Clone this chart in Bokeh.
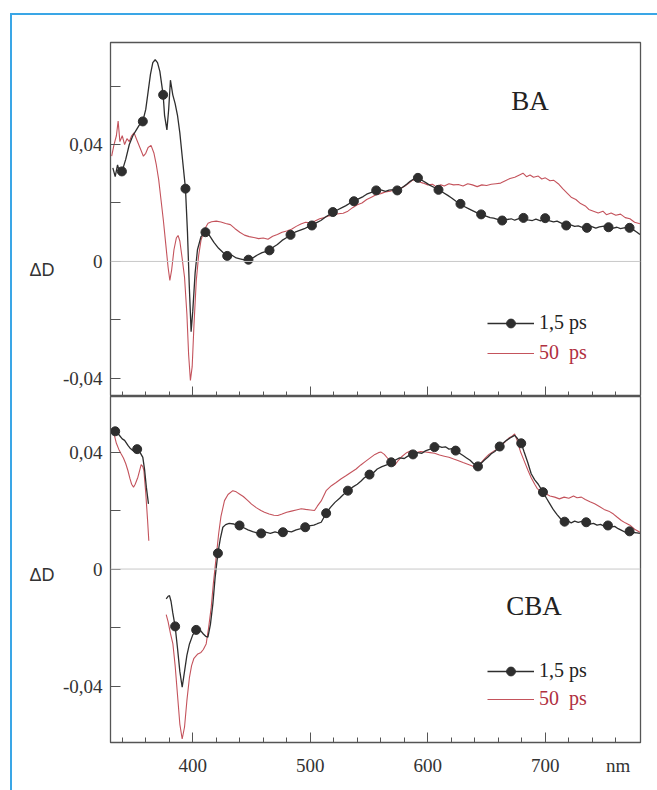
from bokeh.plotting import figure
from bokeh.layouts import column
from bokeh.models import (Range1d, FixedTicker, Span, Label, Legend, LegendItem, LinearAxis)
from bokeh.embed import file_html
from bokeh.resources import INLINE

# ---------------- data ----------------
x_major = [400, 500, 600, 700]
x_minor = [340, 360, 380, 420, 440, 460, 480, 520, 540, 560, 580, 620, 640, 660, 680, 720, 740, 760]
x_unit_pos = 762
x_unit_text = "nm"
y_major = [-0.04, 0, 0.04]
y_minor = [-0.02, 0.02, 0.06]
y_labels = {-0.04: "-0,04", 0: "0", 0.04: "0,04"}
y_name = "ΔD"

# BA, 1.5 ps
ba15_nm = [332, 334, 336, 338, 340, 343, 346, 349, 352, 355, 357.5, 360, 362, 364, 366, 368, 370, 372, 374.8, 376, 378,
           379.5, 381, 383, 385, 387, 389, 391, 393.8, 395.5, 397, 398.6, 400, 402, 404, 407, 410.8, 414, 418, 422, 426,
           429.3, 433, 437, 441, 444, 447.4, 451, 455, 459, 462, 465.3, 469, 472, 476, 480, 483.2, 487, 491, 495, 498,
           501.4, 505, 509, 513, 516, 519.2, 523, 527, 530, 534, 537.1, 541, 545, 548, 552, 556.1, 560, 564, 567, 571,
           574, 578, 582, 585, 588, 591.6, 595, 599, 602, 606, 609.1, 613, 617, 620, 624, 627.8, 631, 635, 638, 642,
           645.4, 649, 653, 656, 660, 663.3, 667, 671, 674, 678, 681.4, 685, 689, 692, 696, 699.9, 703, 707, 710, 714,
           717.8, 721, 725, 728, 732, 735.4, 739, 743, 746, 750, 753.8, 757, 761, 764, 768, 771.7, 775, 778, 780.5]
ba15_dD = [0.032, 0.029, 0.033, 0.030, 0.031, 0.035, 0.040, 0.043, 0.045, 0.047, 0.048, 0.052, 0.058, 0.064, 0.068, 0.069,
           0.068, 0.065, 0.057, 0.050, 0.045, 0.052, 0.062, 0.057, 0.054, 0.050, 0.044, 0.036, 0.0249, 0.010, -0.008,
           -0.024, -0.017, -0.004, 0.004, 0.0085, 0.0100, 0.009, 0.0065, 0.0045, 0.0030, 0.0019, 0.0022, 0.0012, 0.0008,
           0.0005, 0.0006, 0.0012, 0.0022, 0.0030, 0.0034, 0.0038, 0.0050, 0.0058, 0.0072, 0.0082, 0.0091, 0.0100,
           0.0106, 0.0112, 0.0118, 0.0123, 0.0132, 0.0140, 0.0152, 0.0160, 0.0169, 0.0176, 0.0184, 0.0190, 0.0200,
           0.0206, 0.0214, 0.0222, 0.0230, 0.0236, 0.0243, 0.0245, 0.0240, 0.0244, 0.0246, 0.0243, 0.0252, 0.0264,
           0.0274, 0.0282, 0.0286, 0.0278, 0.0268, 0.0260, 0.0252, 0.0245, 0.0236, 0.0226, 0.0218, 0.0206, 0.0197,
           0.0188, 0.0180, 0.0174, 0.0166, 0.0161, 0.0156, 0.0150, 0.0148, 0.0143, 0.0140, 0.0143, 0.0146, 0.0141,
           0.0147, 0.0149, 0.0142, 0.0140, 0.0145, 0.0139, 0.0148, 0.0140, 0.0135, 0.0138, 0.0130, 0.0123, 0.0126,
           0.0120, 0.0122, 0.0116, 0.0115, 0.0120, 0.0114, 0.0118, 0.0121, 0.0117, 0.0113, 0.0117, 0.0112, 0.0116,
           0.0115, 0.0108, 0.0100, 0.0092]
ba15_mk_nm = [339.7, 357.5, 374.8, 393.8, 410.8, 429.3, 447.4, 465.3, 483.2, 501.4, 519.2, 537.1, 556.1, 574.0, 591.6,
              609.1, 627.8, 645.4, 663.3, 681.4, 699.9, 717.8, 735.4, 753.8, 771.7]
ba15_mk_dD = [0.0308, 0.0479, 0.057, 0.0249, 0.0100, 0.0019, 0.0006, 0.0038, 0.0091, 0.0123, 0.0169, 0.0206, 0.0243,
              0.0243, 0.0286, 0.0245, 0.0197, 0.0161, 0.0140, 0.0149, 0.0148, 0.0123, 0.0115, 0.0117, 0.0115]

# BA, 50 ps
ba50_nm = [331, 333, 335, 336.5, 338, 340, 342, 344, 346, 348, 350, 352, 355, 358, 360, 362, 364.5, 367, 369, 371, 373,
           375, 377, 379, 380.5, 382, 384, 386, 387.5, 389, 391, 393, 395, 396.5, 398, 399.5, 401, 403, 405, 407, 410,
           413, 416, 420, 424, 428, 432, 436, 440, 444, 448, 452, 456, 460, 464, 468, 472, 476, 480, 484, 488, 492,
           496, 500, 504, 508, 512, 516, 520, 524, 528, 532, 536, 540, 544, 548, 552, 556, 560, 564, 568, 572, 576,
           580, 584, 587, 590, 593, 596, 600, 604, 607, 611, 614, 618, 622, 626, 630, 634, 638, 642, 646, 650, 654,
           658, 662, 666, 670, 674, 678, 681, 684, 687, 690, 694, 697, 700, 704, 707, 711, 715, 719, 722, 726, 730,
           734, 737, 741, 745, 749, 752, 756, 760, 764, 768, 772, 776, 780.5]
ba50_dD = [0.036, 0.040, 0.043, 0.048, 0.041, 0.043, 0.040, 0.042, 0.041, 0.043, 0.044, 0.042, 0.039, 0.036, 0.037,
           0.039, 0.0397, 0.037, 0.033, 0.028, 0.021, 0.014, 0.006, -0.002, -0.0065, -0.003, 0.004, 0.008, 0.0089,
           0.007, 0.001, -0.0054, -0.018, -0.032, -0.0407, -0.036, -0.022, -0.0065, 0.002, 0.0072, 0.011, 0.0131,
           0.0136, 0.0138, 0.0135, 0.0130, 0.0126, 0.0112, 0.0100, 0.0090, 0.0085, 0.0082, 0.0078, 0.0080, 0.0076,
           0.0086, 0.0092, 0.0100, 0.0104, 0.0110, 0.0120, 0.0128, 0.0134, 0.0132, 0.0138, 0.0146, 0.0150, 0.0156,
           0.0160, 0.0163, 0.0165, 0.0172, 0.0184, 0.0194, 0.0200, 0.0212, 0.0220, 0.0228, 0.0232, 0.0238, 0.0240,
           0.0245, 0.0249, 0.0256, 0.0268, 0.0278, 0.0280, 0.0272, 0.0268, 0.0262, 0.0264, 0.0256, 0.0262, 0.0258,
           0.0266, 0.0262, 0.0263, 0.0258, 0.0266, 0.0262, 0.0256, 0.0262, 0.0260, 0.0264, 0.0266, 0.0268, 0.0276,
           0.0284, 0.0288, 0.0296, 0.0302, 0.0290, 0.0296, 0.0288, 0.0292, 0.0282, 0.0286, 0.0276, 0.0278, 0.0266,
           0.0248, 0.0232, 0.0220, 0.0212, 0.0198, 0.0190, 0.0178, 0.0172, 0.0166, 0.0172, 0.0160, 0.0166, 0.0158,
           0.0162, 0.0150, 0.0146, 0.0134, 0.0129]

# CBA, 1.5 ps (two measured segments)
cba15_nm_a = [331, 334, 337, 340, 342, 345, 347, 349, 351, 352.7, 355, 357.5, 359, 360.5, 362.3]
cba15_dD_a = [0.048, 0.0471, 0.046, 0.0445, 0.0440, 0.0422, 0.0412, 0.0405, 0.0408, 0.0410, 0.0400, 0.0382, 0.034,
              0.028, 0.0223]
cba15_nm_b = [377.4, 379, 380.2, 381.5, 383, 385, 387, 389, 391, 393, 395, 397.2, 400, 402.9, 405, 407, 409, 411, 412.9,
              415, 417.1, 419, 421.4, 423.5, 425.6, 428, 431, 435, 439.8, 443, 447, 451, 455, 458.2, 462, 466, 470, 473,
              476.7, 480, 484, 488, 492, 495.7, 499, 503, 506, 509.3, 513.5, 517, 521, 525, 528, 532, 536, 540, 543,
              546, 550.4, 554, 557, 561, 565, 568.9, 572, 576, 580, 583, 587.4, 591, 595, 598, 602, 605.7, 609, 612,
              615, 618, 621, 623.7, 627, 630, 633, 636, 639, 642.7, 645, 648, 651, 654, 657, 661.2, 664, 667, 670,
              673.9, 676, 679.5, 682, 685, 688, 691, 694, 698, 701, 704, 707, 710, 713, 716.4, 719, 722, 725, 728,
              731, 734.8, 738, 741, 744, 747, 750, 753.3, 756, 759, 762, 765, 768, 771.7, 775, 778, 780.5]
cba15_dD_b = [-0.0102, -0.0093, -0.0091, -0.0110, -0.0150, -0.0196, -0.0270, -0.0350, -0.0404, -0.0350, -0.0295,
              -0.0256, -0.0225, -0.0208, -0.0205, -0.0212, -0.0222, -0.0230, -0.0233, -0.0190, -0.0119, -0.0030,
              0.0054, 0.0105, 0.0143, 0.0152, 0.0156, 0.0154, 0.0149, 0.0142, 0.0134, 0.0128, 0.0123, 0.0122, 0.0126,
              0.0122, 0.0127, 0.0124, 0.0126, 0.0130, 0.0127, 0.0134, 0.0138, 0.0143, 0.0148, 0.0150, 0.0155, 0.0160,
              0.0191, 0.0210, 0.0228, 0.0242, 0.0254, 0.0268, 0.0280, 0.0290, 0.0300, 0.0312, 0.0323, 0.0330, 0.0342,
              0.0350, 0.0356, 0.0365, 0.0372, 0.0380, 0.0378, 0.0386, 0.0392, 0.0398, 0.0396, 0.0404, 0.0410, 0.0417,
              0.0420, 0.0416, 0.0418, 0.0410, 0.0412, 0.0405, 0.0396, 0.0388, 0.0380, 0.0372, 0.0360, 0.0351, 0.0360,
              0.0372, 0.0382, 0.0394, 0.0402, 0.0419, 0.0430, 0.0440, 0.0448, 0.0457, 0.0448, 0.0430, 0.0400, 0.0365,
              0.0326, 0.0305, 0.0290, 0.0263, 0.0242, 0.0222, 0.0202, 0.0186, 0.0172, 0.0162, 0.0165, 0.0158, 0.0164,
              0.0160, 0.0163, 0.0160, 0.0154, 0.0156, 0.0150, 0.0153, 0.0147, 0.0149, 0.0144, 0.0146, 0.0138, 0.0132,
              0.0126, 0.0129, 0.0125, 0.0124, 0.0122]
cba15_mk_nm = [334, 352.7, 385, 402.9, 421.4, 439.8, 458.2, 476.7, 495.7, 513.5, 532, 550.4, 568.9, 587.4, 605.7,
               623.7, 642.7, 661.2, 679.5, 698, 716.4, 734.8, 753.3, 771.7]
cba15_mk_dD = [0.0471, 0.0410, -0.0196, -0.0208, 0.0054, 0.0149, 0.0122, 0.0126, 0.0143, 0.0191, 0.0268, 0.0323,
               0.0365, 0.0392, 0.0417, 0.0405, 0.0351, 0.0419, 0.0430, 0.0263, 0.0162, 0.0160, 0.0149, 0.0129]

# CBA, 50 ps (two measured segments)
cba50_nm_a = [331, 333, 335, 337, 339, 341, 343, 344.8, 346.5, 348, 349.6, 351, 353.3, 355, 356.1, 357.5, 358.4, 360,
              361.5, 362.6]
cba50_dD_a = [0.047, 0.0462, 0.043, 0.041, 0.0394, 0.038, 0.036, 0.0337, 0.031, 0.0290, 0.0280, 0.029, 0.0314, 0.034,
              0.0357, 0.0350, 0.0337, 0.026, 0.017, 0.0097]
cba50_nm_b = [377.4, 379, 381, 383.1, 385, 387, 389, 391, 393, 395, 397.2, 399, 401, 404.3, 407, 409, 411.4, 413.5,
              415.7, 417.5, 419.9, 422, 424, 427, 430, 434.1, 437, 440, 443, 446.9, 450, 454, 458, 461, 465, 469,
              472.4, 476, 480, 484, 488, 492.3, 496, 500, 503.6, 506, 509.3, 513.5, 518, 522, 526, 530, 534.8, 539,
              543, 547, 551, 555, 558, 560.3, 563, 566, 569, 571.7, 575, 578, 582, 585.9, 590, 594, 598, 602, 605.7,
              610, 614, 618, 622, 625.6, 630, 634, 638, 641.2, 645, 649, 652, 656.8, 660, 663, 666, 669, 672, 673.9,
              676, 679, 682, 685.3, 688, 691, 693, 696.6, 700, 704, 708, 712, 716, 720, 724, 727, 730.7, 734, 738,
              742, 746, 750, 754, 758, 761, 764.7, 768, 772, 776, 780.5]
cba50_dD_b = [-0.0156, -0.0180, -0.0220, -0.0256, -0.0330, -0.0430, -0.0530, -0.0581, -0.0540, -0.0450, -0.0370,
              -0.0330, -0.0305, -0.0290, -0.0285, -0.0275, -0.0256, -0.0200, -0.0131, -0.0050, 0.0040, 0.0120,
              0.0180, 0.0234, 0.0255, 0.0268, 0.0264, 0.0256, 0.0248, 0.0234, 0.0222, 0.0210, 0.0200, 0.0194, 0.0188,
              0.0184, 0.0183, 0.0188, 0.0194, 0.0198, 0.0202, 0.0206, 0.0204, 0.0202, 0.0200, 0.0215, 0.0233, 0.0268,
              0.0285, 0.0296, 0.0308, 0.0318, 0.0331, 0.0342, 0.0356, 0.0368, 0.0380, 0.0392, 0.0398, 0.0400, 0.0392,
              0.0378, 0.0362, 0.0354, 0.0372, 0.0385, 0.0398, 0.0405, 0.0398, 0.0402, 0.0400, 0.0398, 0.0396, 0.0390,
              0.0386, 0.0382, 0.0376, 0.0371, 0.0364, 0.0358, 0.0352, 0.0348, 0.0362, 0.0380, 0.0392, 0.0405, 0.0412,
              0.0424, 0.0436, 0.0448, 0.0455, 0.0462, 0.0440, 0.0400, 0.0370, 0.0337, 0.0312, 0.0290, 0.0276, 0.0263,
              0.0258, 0.0250, 0.0246, 0.0240, 0.0246, 0.0242, 0.0250, 0.0244, 0.0246, 0.0238, 0.0230, 0.0223, 0.0214,
              0.0204, 0.0198, 0.0188, 0.0178, 0.0166, 0.0158, 0.0150, 0.0136, 0.0126]

series_labels = ["1,5 ps", "50  ps"]
panel_titles = ["BA", "CBA"]

# ---------------- styling ----------------
BLACK = "#2e2e2e"
RED = "#c4535c"
RED_TEXT = "#b0303f"
FRAME = "#555555"
SERIF = "Liberation Serif"
SANS = "Liberation Sans"


def tick_only_axis(ticks, length):
    # axis that draws only tick marks (as minor ticks), no labels
    return LinearAxis(ticker=FixedTicker(ticks=[], minor_ticks=ticks), axis_line_color=FRAME,
                      major_tick_in=0, major_tick_out=0, minor_tick_in=length, minor_tick_out=0,
                      minor_tick_line_color=FRAME, major_label_standoff=0)


def make_panel(height, yr, border_top, border_bottom, show_xlabels, name_y):
    p = figure(width=645, height=height, x_range=Range1d(330, 781), y_range=Range1d(*yr),
               output_backend="svg", toolbar_location=None, x_axis_location=None,
               min_border_left=98, min_border_right=17, min_border_top=border_top,
               min_border_bottom=border_bottom)
    p.grid.visible = False
    p.outline_line_color = FRAME
    p.outline_line_width = 1.3
    p.background_fill_color = "white"
    p.border_fill_color = "white"

    p.add_layout(tick_only_axis(x_major, 10), "below")
    p.add_layout(tick_only_axis(x_minor, 5), "below")
    if show_xlabels:
        lab = LinearAxis(ticker=FixedTicker(ticks=x_major + [x_unit_pos]),
                         major_label_overrides={x_unit_pos: x_unit_text},
                         axis_line_color=None, major_tick_in=0, major_tick_out=0,
                         major_label_text_font=SERIF, major_label_text_font_size="19px",
                         major_label_text_color="#333333", major_label_standoff=12)
        p.add_layout(lab, "below")

    ya = p.yaxis[0]
    ya.ticker = FixedTicker(ticks=y_major, minor_ticks=y_minor)
    ya.major_label_overrides = y_labels
    ya.axis_line_color = FRAME
    ya.major_tick_in = 10
    ya.major_tick_out = 0
    ya.minor_tick_in = 10
    ya.minor_tick_out = 0
    ya.major_tick_line_color = FRAME
    ya.minor_tick_line_color = FRAME
    ya.major_label_text_font = SERIF
    ya.major_label_text_font_size = "19px"
    ya.major_label_text_color = "#333333"
    ya.major_label_standoff = 8

    name_axis = LinearAxis(ticker=FixedTicker(ticks=[name_y]), major_label_overrides={name_y: y_name},
                           axis_line_color=None, major_tick_in=0, major_tick_out=0,
                           major_label_text_font=SANS, major_label_text_font_size="18px",
                           major_label_text_color="#333333", major_label_standoff=5)
    p.add_layout(name_axis, "left")

    p.add_layout(Span(location=0, dimension="width", line_color="#c8c8c8", line_width=1))
    return p


def legend_pair(p, r_black, r_red, y_black, y_red):
    common = dict(background_fill_alpha=0, border_line_alpha=0, padding=0, margin=0, spacing=0,
                  glyph_width=47, glyph_height=22, label_height=22, label_standoff=5,
                  label_text_font=SERIF, label_text_font_size="20px")
    lg1 = Legend(items=[LegendItem(label=series_labels[0], renderers=r_black)], location=(377, y_black),
                 label_text_color="#222222", **common)
    lg2 = Legend(items=[LegendItem(label=series_labels[1], renderers=r_red)], location=(377, y_red),
                 label_text_color=RED_TEXT, **common)
    p.add_layout(lg1)
    p.add_layout(lg2)


# ---------------- top panel: BA ----------------
p1 = make_panel(381, (-0.0462, 0.0749), 27, 0, False, -0.003)
r_red1 = p1.line(ba50_nm, ba50_dD, line_color=RED, line_width=1.1)
r_blk1 = p1.line(ba15_nm, ba15_dD, line_color=BLACK, line_width=1.3)
r_mk1 = p1.scatter(ba15_mk_nm, ba15_mk_dD, size=9, marker="circle", fill_color=BLACK, line_color=BLACK)
legend_pair(p1, [r_blk1, r_mk1], [r_red1], 62, 32)
p1.add_layout(Label(x=671, y=0.055, text=panel_titles[0], text_font=SERIF, text_font_size="27px",
                    text_color="#222222", text_align="left", text_baseline="middle"))

# ---------------- bottom panel: CBA ----------------
p2 = make_panel(394, (-0.0593, 0.059), 0, 48, True, -0.0022)
r_red2a = p2.line(cba50_nm_a, cba50_dD_a, line_color=RED, line_width=1.1)
p2.line(cba50_nm_b, cba50_dD_b, line_color=RED, line_width=1.1)
r_blk2 = p2.line(cba15_nm_a, cba15_dD_a, line_color=BLACK, line_width=1.3)
p2.line(cba15_nm_b, cba15_dD_b, line_color=BLACK, line_width=1.3)
r_mk2 = p2.scatter(cba15_mk_nm, cba15_mk_dD, size=9, marker="circle", fill_color=BLACK, line_color=BLACK)
legend_pair(p2, [r_blk2, r_mk2], [r_red2a], 60, 32)
p2.add_layout(Label(x=666.7, y=-0.0125, text=panel_titles[1], text_font=SERIF, text_font_size="27px",
                    text_color="#222222", text_align="left", text_baseline="middle"))

layout = column(p1, p2, spacing=0, margin=(13, 0, 0, 10),
                styles={"border-top": "2px solid #3aa6e6", "border-left": "2px solid #3aa6e6"})

open("out.html", "w").write(file_html(layout, INLINE))
